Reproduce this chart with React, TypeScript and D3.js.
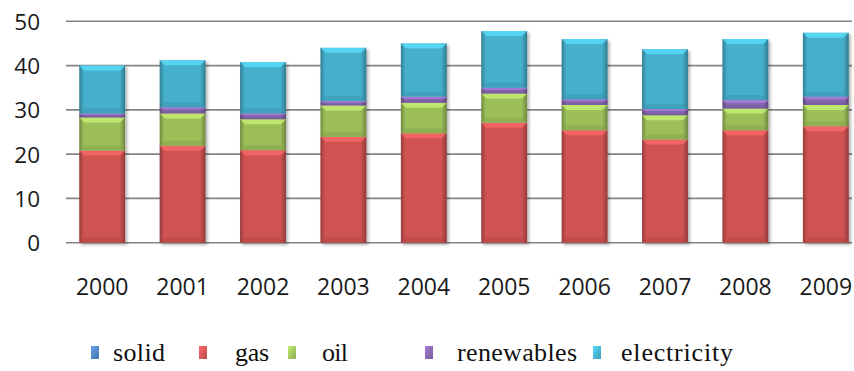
import React from 'react';
import * as d3 from 'd3';

// Energy consumption by source, 2000–2009 (stacked)
const years = ['2000', '2001', '2002', '2003', '2004', '2005', '2006', '2007', '2008', '2009'];
const solid = [0, 0, 0, 0, 0, 0, 0, 0, 0, 0];
const gas = [20.8, 21.9, 20.9, 23.9, 24.7, 27.1, 25.4, 23.3, 25.4, 26.3];
const oil = [7.5, 7.3, 7.0, 7.1, 6.9, 6.6, 5.7, 5.5, 4.9, 4.8];
const renewables = [0.9, 1.4, 1.3, 1.0, 1.4, 1.3, 1.3, 1.4, 1.9, 1.9];
const electricity = [10.8, 10.6, 11.6, 12.0, 12.0, 12.8, 13.6, 13.5, 13.8, 14.4];
const yTicks = [0, 10, 20, 30, 40, 50];

const seriesKeys = ['solid', 'gas', 'oil', 'renewables', 'electricity'];
const seriesValues: Record<string, number[]> = { solid, gas, oil, renewables, electricity };
const colors: Record<string, string> = {
  solid: '#4F81BD',
  gas: '#D05353',
  oil: '#9CBF5A',
  renewables: '#8565AE',
  electricity: '#45AFCC',
};

// legend layout: marker left edge, label left edge and label width
const legendItems = [
  { key: 'solid', mx: 91, tx: 113, tw: 52 },
  { key: 'gas', mx: 199, tx: 235, tw: 34 },
  { key: 'oil', mx: 288, tx: 322, tw: 26 },
  { key: 'renewables', mx: 425, tx: 457, tw: 120 },
  { key: 'electricity', mx: 593, tx: 621, tw: 112 },
];

const W = 854;
const H = 371;

export default function App() {
  const rows = years.map((y, i) => {
    const r: Record<string, any> = { year: y };
    seriesKeys.forEach((k) => (r[k] = seriesValues[k][i]));
    return r;
  });
  const stacked = d3.stack<any>().keys(seriesKeys)(rows);

  const x = d3.scaleBand<string>().domain(years).range([62, 866]).paddingInner(0.43).paddingOuter(0.215);
  const y = d3.scaleLinear().domain([0, 50]).range([242.7, 21.3]);

  const gridX0 = 66;
  const gridX1 = 852;

  const segment = (key: string, x0: number, w: number, y0: number, y1: number, id: string) => {
    const h = y0 - y1;
    if (h <= 0.01) return null;
    const b = Math.min(5, h / 3);
    const col = colors[key];
    const light = d3.color(col)!.brighter(0.7).formatHex();
    const dark = d3.color(col)!.darker(0.5).formatHex();
    return (
      <g key={id}>
        <rect x={x0} y={y1} width={w} height={h} fill={col} />
        <rect x={x0} y={y1} width={w} height={h} fill="url(#sideShade)" />
        <polygon
          points={`${x0},${y1} ${x0 + w},${y1} ${x0 + w - b},${y1 + b} ${x0 + b},${y1 + b}`}
          fill={light}
          opacity={0.75}
        />
        <polygon
          points={`${x0},${y0} ${x0 + w},${y0} ${x0 + w - b},${y0 - b} ${x0 + b},${y0 - b}`}
          fill={dark}
          opacity={0.45}
        />
      </g>
    );
  };

  return (
    <svg
      width={W}
      height={H}
      viewBox={`0 0 ${W} ${H}`}
      style={{ position: 'fixed', left: 0, top: 0, background: '#fff', display: 'block' }}
    >
      <defs>
        <linearGradient id="sideShade" x1="0" x2="1" y1="0" y2="0">
          <stop offset="0" stopColor="#000" stopOpacity={0.28} />
          <stop offset="0.1" stopColor="#000" stopOpacity={0} />
          <stop offset="0.88" stopColor="#000" stopOpacity={0} />
          <stop offset="1" stopColor="#000" stopOpacity={0.3} />
        </linearGradient>
        <filter id="barShadow" x="-20%" y="-10%" width="140%" height="120%">
          <feDropShadow dx="2" dy="2" stdDeviation="1.6" floodColor="#000" floodOpacity="0.3" />
        </filter>
        {legendItems.map((it) => (
          <linearGradient key={it.key} id={`lg-${it.key}`} x1="0" x2="1" y1="0" y2="1">
            <stop offset="0" stopColor={d3.color(colors[it.key])!.brighter(0.6).formatHex()} />
            <stop offset="1" stopColor={d3.color(colors[it.key])!.darker(0.3).formatHex()} />
          </linearGradient>
        ))}
      </defs>

      {/* gridlines */}
      <g>
        {yTicks.map((t) => (
          <line key={t} x1={gridX0} x2={gridX1} y1={y(t)} y2={y(t)} stroke="#858585" strokeWidth={1.6} />
        ))}
      </g>

      {/* y tick labels */}
      <g fontFamily="'Open Sans', 'Noto Sans', sans-serif" fontSize={22.5} fill="#1a1a1a" textAnchor="end">
        {yTicks.map((t) => (
          <text key={t} x={40} y={y(t) + 8.5}>
            {t}
          </text>
        ))}
      </g>

      {/* stacked bars */}
      {years.map((yr, i) => {
        const x0 = x(yr)!;
        const w = x.bandwidth();
        return (
          <g key={yr} filter="url(#barShadow)">
            {stacked.map((s) => segment(s.key, x0, w, y(s[i][0]), y(s[i][1]), `${yr}-${s.key}`))}
          </g>
        );
      })}

      {/* x tick labels */}
      <g fontFamily="'Open Sans', 'Noto Sans', sans-serif" fontSize={23} fill="#1a1a1a" textAnchor="middle">
        {years.map((yr) => (
          <text key={yr} x={x(yr)! + x.bandwidth() / 2} y={295}>
            {yr}
          </text>
        ))}
      </g>

      {/* legend */}
      <g fontFamily="'Liberation Serif', 'DejaVu Serif', serif" fontSize={26} fill="#111">
        {legendItems.map((it) => (
          <g key={it.key}>
            <rect x={it.mx} y={346} width={8} height={13} fill={`url(#lg-${it.key})`} />
            <text x={it.tx} y={361} textLength={it.tw} lengthAdjust="spacing">
              {it.key}
            </text>
          </g>
        ))}
      </g>
    </svg>
  );
}
